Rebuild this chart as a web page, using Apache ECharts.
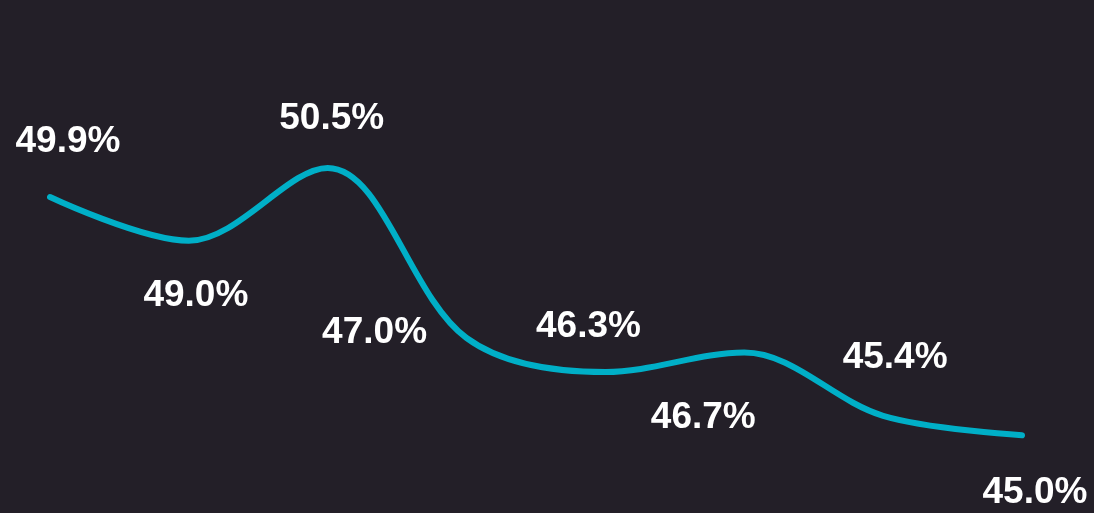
<!DOCTYPE html>
<html>
<head>
<meta charset="utf-8">
<script src="https://cdn.jsdelivr.net/npm/echarts@6/dist/echarts.min.js"></script>
<style>
html,body{margin:0;padding:0;background:#231f28;}
#chart{width:1094px;height:513px;}
</style>
</head>
<body>
<div id="chart"></div>
<script>
const categories = ['1', '2', '3', '4', '5', '6', '7', '8'];
const values = [49.9, 49.0, 50.5, 47.0, 46.3, 46.7, 45.4, 45.0];
// label layout offsets (style, not data)
const labelOffsets = [[18, -55], [7, 55], [4, -49], [-92, -5], [-17, -45], [-41, 65], [12, -58], [13, 58]];

const chart = echarts.init(document.getElementById('chart'));
chart.setOption({
  backgroundColor: '#231f28',
  animation: false,
  grid: { left: 50, right: 72, top: 95, height: 388.8 },
  xAxis: { type: 'category', data: categories, boundaryGap: false, show: false },
  yAxis: { type: 'value', min: 44, max: 52, show: false },
  series: [{
    type: 'line',
    data: values.map((v, i) => ({
      value: v,
      label: { offset: labelOffsets[i] }
    })),
    smooth: 0.34,
    symbol: 'circle',
    symbolSize: 1,
    itemStyle: { color: '#00afc7' },
    lineStyle: { color: '#00afc7', width: 6, cap: 'round' },
    label: {
      show: true,
      position: 'inside',
      align: 'center',
      verticalAlign: 'middle',
      color: '#ffffff',
      fontFamily: 'Liberation Sans, Arial, sans-serif',
      fontWeight: 'bold',
      fontSize: 37,
      formatter: p => p.value.toFixed(1) + '%'
    }
  }]
});
</script>
</body>
</html>
